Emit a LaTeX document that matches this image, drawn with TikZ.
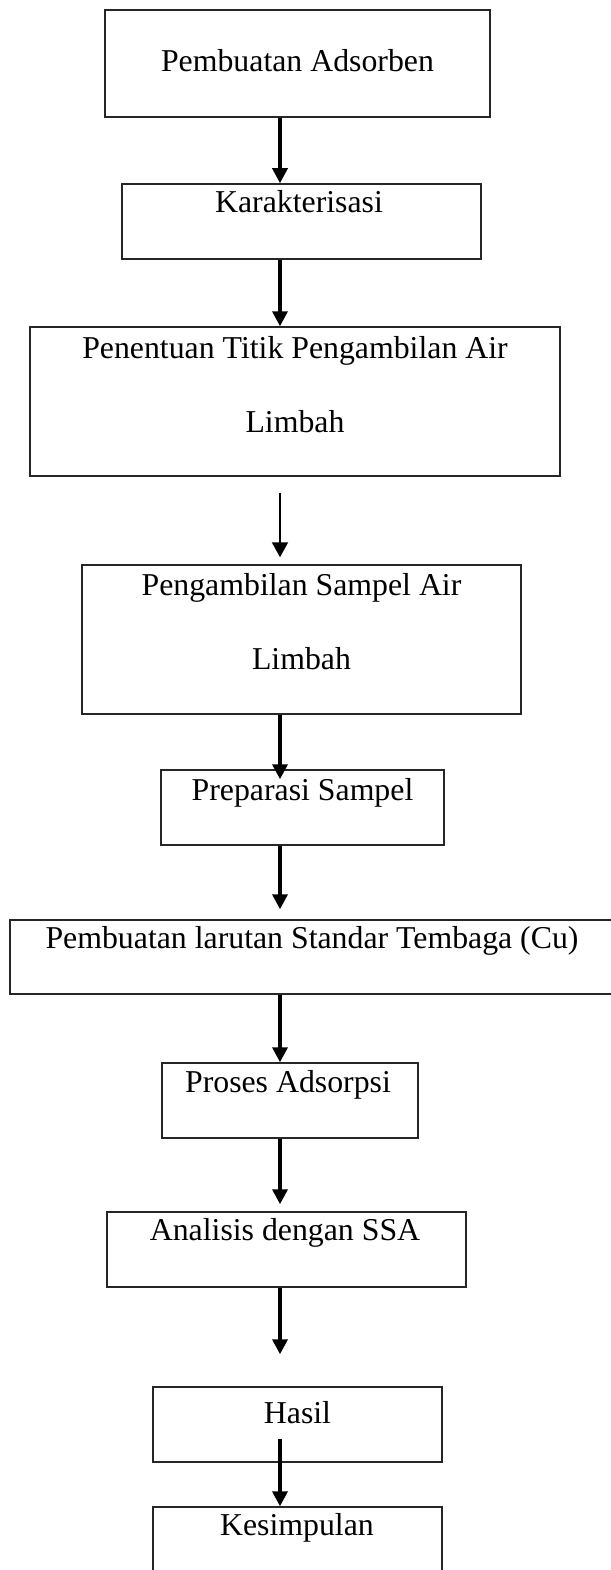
\documentclass[tikz,border=0pt]{standalone}
\usepackage{fontspec}
\setmainfont{Liberation Serif}
\usepackage{tikz}
\usetikzlibrary{arrows.meta}
\tikzset{
  box/.style={draw=black!85, line width=1.5pt, rectangle, inner sep=0pt},
  lbl/.style={anchor=base, inner sep=0pt, font=\fontsize{31.8}{38}\selectfont},
  flow/.style={line width=3.5pt, -{Triangle[width=15pt,length=15pt]}},
  thinflow/.style={line width=2pt, -{Triangle[width=16pt,length=15pt]}}
}

\begin{document}
\begin{tikzpicture}[x=1pt, y=-1pt]
  \useasboundingbox (0,0) rectangle (610,1570);
  \coordinate (spine) at (280,0);

  % Draw the boxes
  \node[box, minimum width=385pt, minimum height=107pt] (adsorben) at (297.5,63.5) {};
  \node[box, minimum width=359pt, minimum height=75pt] (karakter) at (301.5,221.5) {};
  \node[box, minimum width=530pt, minimum height=149pt] (titik) at (295,401.5) {};
  \node[box, minimum width=439pt, minimum height=149pt] (sampel) at (301.5,639.5) {};
  \node[box, minimum width=283pt, minimum height=75pt] (preparasi) at (302.5,807.5) {};
  \node[box, minimum width=605pt, minimum height=74pt] (standar) at (312.5,957) {};
  \node[box, minimum width=256pt, minimum height=75pt] (adsorpsi) at (290,1100.5) {};
  \node[box, minimum width=359pt, minimum height=75pt] (ssa) at (286.5,1249.5) {};
  \node[box, minimum width=289pt, minimum height=75pt] (hasil) at (297.5,1424.5) {};
  \node[box, minimum width=289pt, minimum height=75pt] (simpulan) at (297.5,1544.5) {};

  % Write the steps
  \node[lbl] (tadsorben) at (297.5,72) {Pembuatan Adsorben};
  \node[lbl] (tkarakter) at (299,213) {Karakterisasi};
  \node[lbl] (ttitik) at (295,358) {Penentuan Titik Pengambilan Air};
  \node[lbl] (ttitikb) at (295,432) {Limbah};
  \node[lbl] (tsampel) at (301.5,595) {Pengambilan Sampel Air};
  \node[lbl] (tsampelb) at (301.5,669) {Limbah};
  \node[lbl] (tpreparasi) at (302.5,800) {Preparasi Sampel};
  \node[lbl] (tstandar) at (312,948) {Pembuatan larutan Standar Tembaga (Cu)};
  \node[lbl] (tadsorpsi) at (288,1092) {Proses Adsorpsi};
  \node[lbl] (tssa) at (285,1240) {Analisis dengan SSA};
  \node[lbl] (thasil) at (297.5,1423) {Hasil};
  \node[lbl] (tsimpulan) at (297,1535) {Kesimpulan};

  % Connect the steps
  \draw[flow] (adsorben.south -| spine) -- (karakter.north -| spine);
  \draw[flow] (karakter.south -| spine) -- (titik.north -| spine);
  \draw[thinflow, shorten <=16pt, shorten >=7pt] (titik.south -| spine) -- (sampel.north -| spine);
  \draw[flow, shorten >=-10pt] (sampel.south -| spine) -- (preparasi.north -| spine);
  \draw[flow, shorten >=10pt] (preparasi.south -| spine) -- (standar.north -| spine);
  \draw[flow, xshift=-2pt] (standar.south -| spine) -- (adsorpsi.north -| spine);
  \draw[flow, shorten >=7pt] (adsorpsi.south -| spine) -- (ssa.north -| spine);
  \draw[flow, shorten >=32pt] (ssa.south -| spine) -- (hasil.north -| spine);
  \draw[flow, shorten <=-24pt] (hasil.south -| spine) -- (simpulan.north -| spine);
\end{tikzpicture}
\end{document}
